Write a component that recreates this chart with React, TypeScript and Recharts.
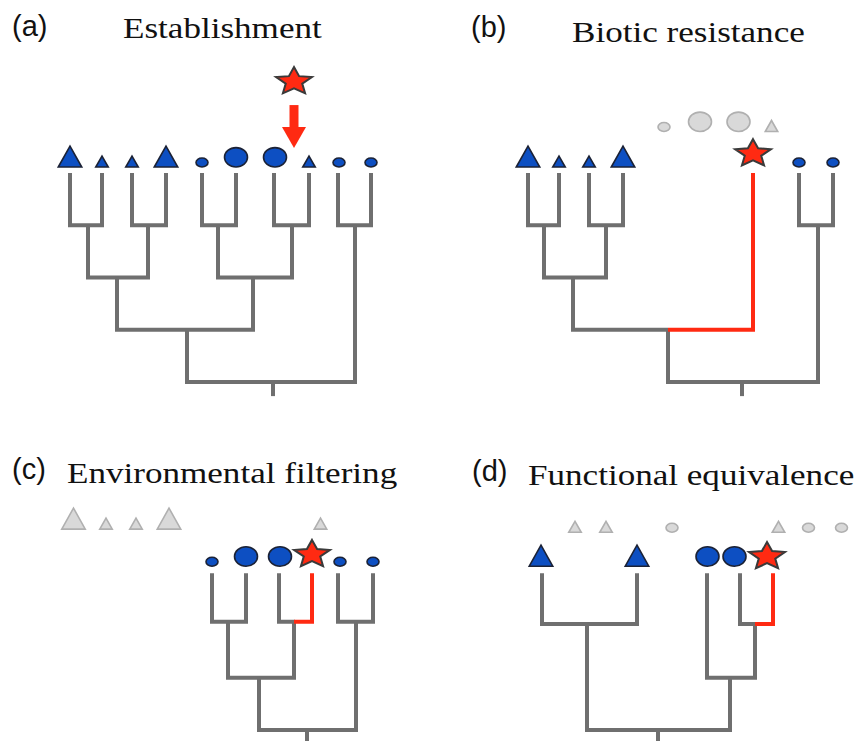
import React from "react";
import { ComposedChart, Scatter, XAxis, YAxis } from "recharts";

type P = [number, number];
type Mark = { x: number; y: number; shape: "tri" | "circ" | "star"; big?: boolean; ghost?: boolean };

const GRAY = "#6f6f6f";
const RED = "#ff2a12";
const BLUE = "#0d4fc2";
const OUTLINE = "#1b2236";
const GHOST_FILL = "#d9d9d9";
const GHOST_LINE = "#b0b0b0";

// ---- panel (a) Establishment ----
const aTips: Mark[] = [
  { x: 70, y: 4.1, shape: "tri", big: true },
  { x: 102, y: 4.1, shape: "tri" },
  { x: 132, y: 4.1, shape: "tri" },
  { x: 166, y: 4.1, shape: "tri", big: true },
  { x: 202, y: 4.1, shape: "circ" },
  { x: 236, y: 4.1, shape: "circ", big: true },
  { x: 275, y: 4.1, shape: "circ", big: true },
  { x: 309, y: 4.1, shape: "tri" },
  { x: 339, y: 4.1, shape: "circ" },
  { x: 371, y: 4.1, shape: "circ" },
];
const aStar: Mark[] = [{ x: 294, y: 5.75, shape: "star" }];
const aArrowShaft: P[] = [[294, 5.3], [294, 4.84]];
const aArrowHead = [{ x: 294, y: 4.48 }];
const aBranches: P[][] = [
  [[70, 4], [70, 3], [102, 3], [102, 4]],
  [[132, 4], [132, 3], [166, 3], [166, 4]],
  [[202, 4], [202, 3], [236, 3], [236, 4]],
  [[274, 4], [274, 3], [309, 3], [309, 4]],
  [[338, 4], [338, 3], [371, 3], [371, 4]],
  [[88, 3], [88, 2], [148, 2], [148, 3]],
  [[218, 3], [218, 2], [292, 2], [292, 3]],
  [[117, 2], [117, 1], [253, 1], [253, 2]],
  [[187, 1], [187, 0], [355, 0], [355, 3]],
  [[273, 0], [273, -0.27]],
];

// ---- panel (b) Biotic resistance ----
const bTips: Mark[] = [
  { x: 98, y: 4.1, shape: "tri", big: true },
  { x: 129, y: 4.1, shape: "tri" },
  { x: 159, y: 4.1, shape: "tri" },
  { x: 193, y: 4.1, shape: "tri", big: true },
  { x: 369, y: 4.1, shape: "circ" },
  { x: 403, y: 4.1, shape: "circ" },
];
const bGhosts: Mark[] = [
  { x: 234, y: 4.78, shape: "circ", ghost: true },
  { x: 270, y: 4.78, shape: "circ", big: true, ghost: true },
  { x: 308.5, y: 4.78, shape: "circ", big: true, ghost: true },
  { x: 341.5, y: 4.78, shape: "tri", ghost: true },
];
const bStar: Mark[] = [{ x: 323, y: 4.37, shape: "star" }];
const bBranches: P[][] = [
  [[98, 4], [98, 3], [129, 3], [129, 4]],
  [[159, 4], [159, 3], [193, 3], [193, 4]],
  [[369, 4], [369, 3], [403, 3], [403, 4]],
  [[114, 3], [114, 2], [176, 2], [176, 3]],
  [[143, 2], [143, 1], [238, 1]],
  [[238, 1], [238, 0], [388, 0], [388, 3]],
  [[312, 0], [312, -0.27]],
];
const bRed: P[][] = [[[238, 1], [323, 1], [323, 4]]];

// ---- panel (c) Environmental filtering ----
const cTips: Mark[] = [
  { x: 212, y: 3.12, shape: "circ" },
  { x: 246, y: 3.12, shape: "circ", big: true },
  { x: 280, y: 3.12, shape: "circ", big: true },
  { x: 340, y: 3.12, shape: "circ" },
  { x: 373, y: 3.12, shape: "circ" },
];
const cGhosts: Mark[] = [
  { x: 73.5, y: 3.83, shape: "tri", big: true, ghost: true },
  { x: 106, y: 3.83, shape: "tri", ghost: true },
  { x: 136, y: 3.83, shape: "tri", ghost: true },
  { x: 169, y: 3.83, shape: "tri", big: true, ghost: true },
  { x: 320.5, y: 3.83, shape: "tri", ghost: true },
];
const cStar: Mark[] = [{ x: 312, y: 3.36, shape: "star" }];
const cBranches: P[][] = [
  [[212, 3], [212, 2.07], [246, 2.07], [246, 3]],
  [[279, 3], [279, 2.07], [295, 2.07]],
  [[338, 3], [338, 2.07], [373, 2.07], [373, 3]],
  [[228, 2.07], [228, 1], [294, 1], [294, 2.07]],
  [[259, 1], [259, 0], [356, 0], [356, 2.07]],
  [[307, 0], [307, -0.3]],
];
const cRed: P[][] = [[[294, 2.07], [312, 2.07], [312, 3]]];

// ---- panel (d) Functional equivalence ----
const dTips: Mark[] = [
  { x: 111, y: 3.12, shape: "tri", big: true },
  { x: 207, y: 3.12, shape: "tri", big: true },
  { x: 277.5, y: 3.12, shape: "circ", big: true },
  { x: 304.5, y: 3.12, shape: "circ", big: true },
];
const dGhosts: Mark[] = [
  { x: 145, y: 3.77, shape: "tri", ghost: true },
  { x: 176, y: 3.77, shape: "tri", ghost: true },
  { x: 242, y: 3.77, shape: "circ", ghost: true },
  { x: 348.5, y: 3.77, shape: "tri", ghost: true },
  { x: 378.5, y: 3.77, shape: "circ", ghost: true },
  { x: 411.5, y: 3.77, shape: "circ", ghost: true },
];
const dStar: Mark[] = [{ x: 337, y: 3.32, shape: "star" }];
const dBranches: P[][] = [
  [[112, 3], [112, 2.03], [207, 2.03], [207, 3]],
  [[310, 3], [310, 2.03], [325, 2.03]],
  [[277, 3], [277, 1], [325, 1], [325, 2.03]],
  [[157, 2.03], [157, 0], [300, 0], [300, 1]],
  [[228, 0], [228, -0.3]],
];
const dRed: P[][] = [[[325, 2.03], [343, 2.03], [343, 3]]];

const toPts = (seg: P[]) => seg.map(([x, y]) => ({ x, y }));
const blank = () => <g />;

const starPoints = (cx: number, cy: number, r: number) => {
  const pts: string[] = [];
  for (let i = 0; i < 10; i++) {
    const a = (-90 + 36 * i) * (Math.PI / 180);
    const rr = i % 2 === 0 ? r : r * 0.46;
    pts.push(`${cx + rr * Math.cos(a) * 1.3},${cy + rr * Math.sin(a)}`);
  }
  return pts.join(" ");
};

const MarkShape = (props: any) => {
  const { cx, cy, payload } = props;
  if (cx == null || cy == null) return <g />;
  const fill = payload.ghost ? GHOST_FILL : BLUE;
  const stroke = payload.ghost ? GHOST_LINE : OUTLINE;
  if (payload.shape === "star") {
    return <polygon points={starPoints(cx, cy, 14.5)} fill={RED} stroke="#3a3a3a" strokeWidth={2} />;
  }
  if (payload.shape === "tri") {
    const w = payload.big ? 23.5 : 12.5;
    const h = payload.big ? 21 : 11;
    return (
      <polygon
        points={`${cx - w / 2},${cy - 0.75} ${cx + w / 2},${cy - 0.75} ${cx},${cy - 0.75 - h}`}
        fill={fill}
        stroke={stroke}
        strokeWidth={1.6}
      />
    );
  }
  const rx = payload.big ? 11.5 : 6;
  const ry = payload.big ? 9.7 : 4.5;
  return <ellipse cx={cx} cy={cy - 0.75 - ry} rx={rx} ry={ry} fill={fill} stroke={stroke} strokeWidth={1.6} />;
};

const ArrowHead = (props: any) => {
  const { cx, cy } = props;
  if (cx == null || cy == null) return <g />;
  return <polygon points={`${cx - 12},${cy - 21} ${cx + 12},${cy - 21} ${cx},${cy}`} fill={RED} />;
};

const Label = ({ x, y, tag, title, tx, ty }: { x: number; y: number; tag: string; title: string; tx: number; ty: number }) => (
  <g>
    <text x={x} y={y} fontFamily="'Liberation Sans', Arial, sans-serif" fontSize={29} fill="#111">
      {tag}
    </text>
    <text
      transform={`translate(${tx} ${ty}) scale(1.17 1)`}
      fontFamily="'Liberation Serif', 'Times New Roman', serif"
      fontSize={30}
      fill="#111"
    >
      {title}
    </text>
  </g>
);

type PanelProps = {
  left: number;
  top: number;
  w: number;
  h: number;
  yDomain: [number, number];
  gray: P[][];
  red?: P[][];
  marks: Mark[];
  children?: React.ReactNode;
  extra?: React.ReactNode;
};

const Panel = ({ left, top, w, h, yDomain, gray, red = [], marks, children, extra }: PanelProps) => (
  <div style={{ position: "absolute", left, top, width: w, height: h }}>
    <ComposedChart width={w} height={h} margin={{ top: 0, right: 0, bottom: 0, left: 0 }}>
      <XAxis type="number" dataKey="x" domain={[0, w]} hide allowDataOverflow />
      <YAxis type="number" dataKey="y" domain={yDomain} hide allowDataOverflow />
      {gray.map((seg, i) => (
        <Scatter
          key={"g" + i}
          data={toPts(seg)}
          line={{ stroke: GRAY, strokeWidth: 4, fill: "none" }}
          shape={blank}
          isAnimationActive={false}
        />
      ))}
      {red.map((seg, i) => (
        <Scatter
          key={"r" + i}
          data={toPts(seg)}
          line={{ stroke: RED, strokeWidth: 4, fill: "none" }}
          shape={blank}
          isAnimationActive={false}
        />
      ))}
      {extra}
      <Scatter data={marks} shape={MarkShape} isAnimationActive={false} />
      {children}
    </ComposedChart>
  </div>
);

const TOP: [number, number] = [-0.536, 7.311];
const BOTTOM: [number, number] = [-0.211, 6.124];

export default function App() {
  return (
    <div style={{ position: "absolute", left: 0, top: 0, width: 859, height: 741, background: "#fff", overflow: "hidden" }}>
      <Panel
        left={0}
        top={0}
        w={430}
        h={410}
        yDomain={TOP}
        gray={aBranches}
        marks={[...aTips, ...aStar]}
        extra={[
          <Scatter
            key="shaft"
            data={toPts(aArrowShaft)}
            line={{ stroke: RED, strokeWidth: 9, fill: "none" }}
            shape={blank}
            isAnimationActive={false}
          />,
          <Scatter key="head" data={aArrowHead} shape={ArrowHead} isAnimationActive={false} />,
        ]}
      >
        <Label x={12} y={36} tag="(a)" title="Establishment" tx={123} ty={38} />
      </Panel>
      <Panel left={430} top={0} w={429} h={410} yDomain={TOP} gray={bBranches} red={bRed} marks={[...bGhosts, ...bTips, ...bStar]}>
        <Label x={41} y={37} tag="(b)" title="Biotic resistance" tx={142} ty={42} />
      </Panel>
      <Panel left={0} top={410} w={430} h={331} yDomain={BOTTOM} gray={cBranches} red={cRed} marks={[...cGhosts, ...cTips, ...cStar]}>
        <Label x={12} y={69} tag="(c)" title="Environmental filtering" tx={67} ty={73} />
      </Panel>
      <Panel left={430} top={410} w={429} h={331} yDomain={BOTTOM} gray={dBranches} red={dRed} marks={[...dGhosts, ...dTips, ...dStar]}>
        <Label x={42} y={71} tag="(d)" title="Functional equivalence" tx={98} ty={75} />
      </Panel>
    </div>
  );
}
